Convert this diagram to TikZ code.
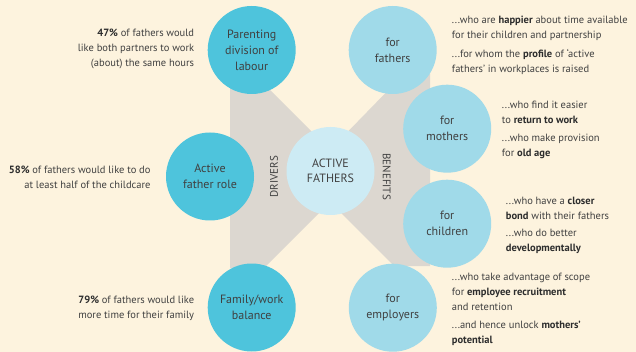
\documentclass[tikz,border=0pt]{standalone}
\usepackage{fontspec}
\setmainfont{PT Sans}
\definecolor{bg}{RGB}{253,243,222}
\definecolor{band}{RGB}{220,215,208}
\definecolor{drv}{RGB}{78,196,220}
\definecolor{ben}{RGB}{160,218,233}
\definecolor{ctr}{RGB}{205,235,244}
\definecolor{txt}{RGB}{64,64,64}
\definecolor{txtb}{RGB}{45,45,45}
\newcommand\bfx[1]{{\bfseries\color{txtb}#1}}
\begin{document}
\begin{tikzpicture}[x=1pt,y=-1pt,
  circ/.style={circle,minimum size=88pt,inner sep=0pt,align=center,text=txt,
    font=\fontsize{12}{16}\selectfont},
  drvc/.style={circ,fill=drv},
  benc/.style={circ,fill=ben},
  ctrc/.style={circ,fill=ctr,font=\fontsize{12}{15}\selectfont},
  note/.style={text=txt,inner sep=0pt,font=\fontsize{10.5}{15}\selectfont},
  notel/.style={note,align=left,anchor=west},
  noter/.style={note,align=right,anchor=east},
  sidelabel/.style={text=txt,inner sep=0pt,font=\fontsize{11}{13}\selectfont}
]
\useasboundingbox (0,0) rectangle (636,352);
\fill[bg] (0,0) rectangle (636,352);
% grey bow-tie bands
\fill[band] (230,72) -- (252,72) -- (330,150) -- (330,202) -- (264,268) -- (230,268) -- cycle;
\fill[band] (330,150) -- (404,74) -- (430,74) -- (430,266) -- (394,266) -- (330,202) -- cycle;
% driver circles
\node[drvc] (pdl) at (251.7,50) {Parenting\\division of\\labour};
\node[drvc] (afr) at (210,176.5) {Active\\father role};
\node[drvc] (fwb) at (251.7,307.5) {Family/work\\balance};
% benefit circles
\node[benc] (bfa) at (392.7,50) {for\\fathers};
\node[benc] (bmo) at (447.2,128.7) {for\\mothers};
\node[benc] (bch) at (447.2,223.7) {for\\children};
\node[benc] (bem) at (392.8,307.7) {for\\employers};
% centre
\node[ctrc] (act) at (330.5,171) {ACTIVE\\FATHERS};
\node[sidelabel,rotate=90] (drl) at (274,176.7) {DRIVERS};
\node[sidelabel,rotate=-90] (bnl) at (386.7,176.7) {BENEFITS};
% left notes
\node[noter] (n47) at (194.3,48.7) {\bfx{47\%} of fathers would\\like both partners to work\\(about) the same hours};
\node[noter] (n58) at (150.7,177.2) {\bfx{58\%} of fathers would like to do\\at least half of the childcare};
\node[noter] (n79) at (194.3,308.3) {\bfx{79\%} of fathers would like\\more time for their family};
% right notes
\node[notel] (fa1) at (451.7,28) {...who are \bfx{happier} about time available\\for their children and partnership};
\node[notel] (fa2) at (451.7,61.5) {...for whom the \bfx{profile} of ‘active\\fathers’ in workplaces is raised};
\node[notel] (mo1) at (501.7,112.5) {...who find it easier\\to \bfx{return to work}};
\node[notel] (mo2) at (501.7,146.5) {...who make provision\\for \bfx{old age}};
\node[notel] (ch1) at (505.7,208.2) {...who have a \bfx{closer}\\\bfx{bond} with their fathers};
\node[notel] (ch2) at (505.7,241.2) {...who do better\\\bfx{developmentally}};
\node[notel] (em1) at (451.7,291.8) {...who take advantage of scope\\for \bfx{employee recruitment}\\and retention};
\node[notel] (em2) at (451.7,333.3) {...and hence unlock \bfx{mothers’}\\\bfx{potential}};
\end{tikzpicture}
\end{document}
